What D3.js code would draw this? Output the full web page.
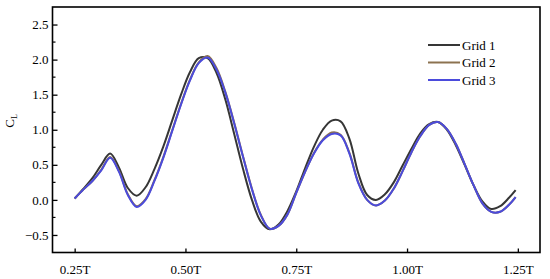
<!DOCTYPE html>
<html>
<head>
<meta charset="utf-8">
<script src="https://cdn.jsdelivr.net/npm/d3@7"></script>
<style>
  body { margin: 0; background: #fff; }
  svg text { font-family: "Liberation Serif", "Times New Roman", serif; }
</style>
</head>
<body>
<svg id="chart" width="550" height="279"></svg>
<script>
// time, in periods
var times = [0.25, 0.27, 0.29, 0.31, 0.33, 0.35, 0.37, 0.39, 0.41, 0.43,
             0.45, 0.47, 0.49, 0.51, 0.53, 0.55, 0.57, 0.59, 0.61, 0.63,
             0.65, 0.67, 0.69, 0.71, 0.73, 0.75, 0.77, 0.79, 0.81, 0.83,
             0.85, 0.87, 0.89, 0.91, 0.93, 0.95, 0.97, 0.99, 1.01, 1.03,
             1.05, 1.07, 1.09, 1.11, 1.13, 1.15, 1.17, 1.19, 1.21, 1.23, 1.245];

// lift coefficient for each grid
var grid1 = [0.02, 0.16, 0.31, 0.50, 0.66, 0.46, 0.17, 0.06, 0.18, 0.44,
             0.76, 1.13, 1.50, 1.82, 2.02, 2.02, 1.81, 1.43, 0.94, 0.44,
             0.00, -0.31, -0.42, -0.35, -0.16, 0.12, 0.45, 0.76, 1.00, 1.13,
             1.12, 0.87, 0.38, 0.07, 0.00, 0.08, 0.25, 0.49, 0.73, 0.95,
             1.08, 1.11, 1.00, 0.78, 0.50, 0.21, -0.02, -0.13, -0.09, 0.03, 0.14];
var grid2 = [0.02, 0.15, 0.27, 0.43, 0.61, 0.41, 0.08, -0.09, 0.01, 0.28,
             0.61, 0.99, 1.37, 1.71, 1.96, 2.05, 1.88, 1.54, 1.10, 0.62,
             0.16, -0.21, -0.41, -0.37, -0.21, 0.10, 0.40, 0.67, 0.86, 0.96,
             0.93, 0.67, 0.25, 0.00, -0.08, -0.01, 0.16, 0.41, 0.68, 0.91,
             1.07, 1.11, 1.01, 0.80, 0.51, 0.21, -0.05, -0.17, -0.17, -0.07, 0.04];
var grid3 = [0.02, 0.15, 0.27, 0.42, 0.60, 0.40, 0.07, -0.10, 0.00, 0.27,
             0.60, 0.98, 1.36, 1.70, 1.95, 2.03, 1.86, 1.53, 1.09, 0.61,
             0.15, -0.22, -0.41, -0.37, -0.21, 0.10, 0.40, 0.66, 0.85, 0.94,
             0.92, 0.66, 0.24, 0.00, -0.08, -0.01, 0.16, 0.41, 0.68, 0.91,
             1.07, 1.11, 1.01, 0.80, 0.51, 0.21, -0.05, -0.17, -0.17, -0.07, 0.04];

var seriesNames = ["Grid 1", "Grid 2", "Grid 3"];
var seriesColors = ["#363636", "#8c7250", "#4b4bdc"];

var xTicks = [0.25, 0.5, 0.75, 1.0, 1.25];
var xTickLabels = ["0.25T", "0.50T", "0.75T", "1.00T", "1.25T"];
var yTicks = [-0.5, 0.0, 0.5, 1.0, 1.5, 2.0, 2.5];
var yMinor = [-0.25, 0.25, 0.75, 1.25, 1.75, 2.25];

var svg = d3.select("#chart");

// plot area
var plotL = 52.5, plotR = 540, plotT = 7, plotB = 252.5;

var x = d3.scaleLinear().domain([0.2, 1.3]).range([plotL, plotR]);
var y = d3.scaleLinear().domain([-0.75, 2.75]).range([plotB, plotT]);

// curves
var line = d3.line()
    .x(function(d){ return x(d[0]); })
    .y(function(d){ return y(d[1]); })
    .curve(d3.curveCatmullRom.alpha(0.5));

[grid1, grid2, grid3].forEach(function(vals, i){
    svg.append("path")
        .datum(times.map(function(t, j){ return [t, vals[j]]; }))
        .attr("d", line)
        .attr("fill", "none")
        .attr("stroke", seriesColors[i])
        .attr("stroke-width", 2);
});

// frame
svg.append("rect")
    .attr("x", plotL).attr("y", plotT)
    .attr("width", plotR - plotL).attr("height", plotB - plotT)
    .attr("fill", "none")
    .attr("stroke", "#000")
    .attr("stroke-width", 1.6);

// x axis, ticks inward
var xAxis = svg.append("g")
    .attr("transform", "translate(0," + plotB + ")")
    .call(d3.axisBottom(x).tickValues(xTicks).tickSizeInner(-4).tickSizeOuter(0)
        .tickFormat(function(d, i){ return xTickLabels[i]; }));
xAxis.select(".domain").remove();
xAxis.selectAll("line").attr("stroke-width", 1.3);
xAxis.selectAll("text")
    .attr("y", 12)
    .attr("font-size", 13)
    .attr("font-family", "Liberation Serif")
    .attr("fill", "#000");

// y axis, ticks inward
var yAxis = svg.append("g")
    .attr("transform", "translate(" + plotL + ",0)")
    .call(d3.axisLeft(y).tickValues(yTicks).tickSizeInner(-5).tickSizeOuter(0)
        .tickFormat(d3.format(".1f")));
yAxis.select(".domain").remove();
yAxis.selectAll("line").attr("stroke-width", 1.3);
yAxis.selectAll("text")
    .attr("x", -4)
    .attr("font-size", 13)
    .attr("font-family", "Liberation Serif")
    .attr("fill", "#000");

svg.append("g").selectAll("line")
    .data(yMinor)
    .enter()
    .append("line")
    .attr("x1", plotL).attr("x2", plotL + 3)
    .attr("y1", function(d){ return y(d); })
    .attr("y2", function(d){ return y(d); })
    .attr("stroke", "#000")
    .attr("stroke-width", 1.2);

// y label C_L
var yl = svg.append("text")
    .attr("transform", "translate(14,121) rotate(-90)")
    .attr("text-anchor", "middle")
    .attr("font-size", 13);
yl.append("tspan").text("C");
yl.append("tspan").attr("font-size", 8).attr("dy", 3).text("L");

// legend
var legend = svg.append("g").selectAll("g")
    .data(seriesNames)
    .enter()
    .append("g")
    .attr("transform", function(d, i){ return "translate(428," + (45 + i * 17.5) + ")"; });
legend.append("line")
    .attr("x1", 0).attr("x2", 32)
    .attr("stroke", function(d, i){ return seriesColors[i]; })
    .attr("stroke-width", 2);
legend.append("text")
    .attr("x", 34)
    .attr("dy", "0.35em")
    .attr("font-size", 13)
    .text(function(d){ return d; });
</script>
</body>
</html>
